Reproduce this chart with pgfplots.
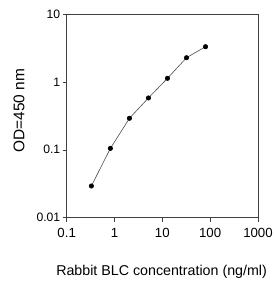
\documentclass[border=0pt]{standalone}
\usepackage{pgfplots}
\pgfplotsset{compat=1.18}
\usepackage{fontspec}
\setmainfont{Liberation Sans}
\begin{document}
\begin{tikzpicture}[x=1bp,y=1bp]
\useasboundingbox (0,0) rectangle (274,281);
\begin{axis}[
  at={(66.7bp,63.3bp)}, anchor=south west,
  scale only axis, width=191.3bp, height=203.7bp,
  xmode=log, ymode=log,
  xmin=0.1, xmax=1000, ymin=0.01, ymax=10,
  xtick={0.1,1,10,100,1000}, xticklabels={0.1,1,10,100,1000},
  ytick={0.01,0.1,1,10}, yticklabels={0.01,0.1,1,10},
  xminorticks=false, yminorticks=false,
  tick align=outside, xtick pos=bottom, ytick pos=left,
  major tick length=4bp,
  tick style={black!75, line width=0.6pt},
  axis line style={black!75, line width=0.6pt},
  x tick label style={font=\fontsize{13.3}{13.3}\selectfont, yshift=-3bp},
  y tick label style={font=\fontsize{12.2}{12.2}\selectfont, xshift=1bp},
  xlabel={Rabbit BLC concentration (ng/ml)},
  ylabel={OD=450 nm},
  xlabel style={font=\fontsize{14.3}{14.3}\selectfont, at={(axis description cs:0.496,-0.264)}, anchor=center},
  ylabel style={font=\fontsize{15.5}{15.5}\selectfont, at={(axis description cs:-0.249,0.526)}, anchor=center, rotate=0},
]
\addplot[black!70, line width=0.6pt, mark=*, mark size=2.2bp, mark options={black, fill=black}]
  coordinates {(0.328,0.0293) (0.82,0.105) (2.05,0.291) (5.12,0.58) (12.8,1.13) (32,2.27) (80,3.3)};
\end{axis}
\end{tikzpicture}
\end{document}
